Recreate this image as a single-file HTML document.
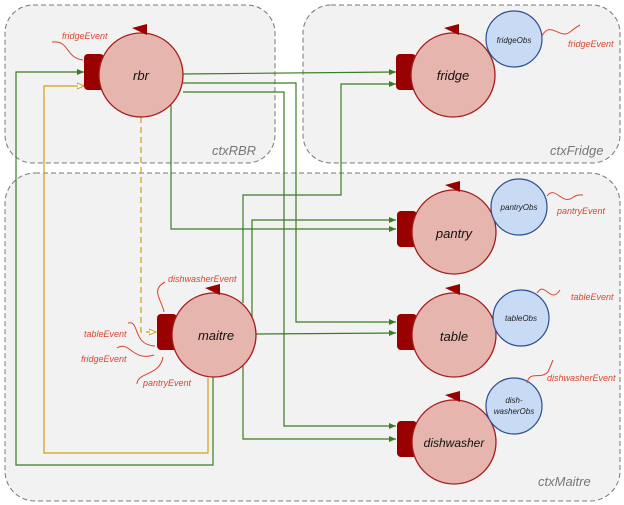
<!DOCTYPE html>
<html><head><meta charset="utf-8"><style>
html,body{margin:0;padding:0;background:#fff;}
svg{display:block;}
text{font-family:"Liberation Sans",sans-serif;font-style:italic;}
.lbl{font-size:13px;fill:#111;}
.ev{font-size:9px;fill:#d9452f;}
.ctx{font-size:13px;fill:#777;}
.obs{font-size:8px;fill:#222;}
</style></head><body>
<svg width="624" height="505" viewBox="0 0 624 505" xmlns="http://www.w3.org/2000/svg">
<defs>
<marker id="ag" markerWidth="8" markerHeight="8" refX="7" refY="4" orient="auto" markerUnits="userSpaceOnUse"><path d="M0,1 L7,4 L0,7 Z" fill="#3a7d22"/></marker>
<marker id="ay" markerWidth="8" markerHeight="8" refX="7" refY="4" orient="auto" markerUnits="userSpaceOnUse"><path d="M0,1 L7,4 L0,7 Z" fill="#fff" stroke="#d4a017"/></marker>
<g id="node"><rect x="-57" y="-21" width="20" height="36" rx="4" fill="#990000"/><circle r="42" fill="#e6b6ae" stroke="#a51c1c" stroke-width="1.3"/><path d="M-9,-47 L6,-51 L6,-40 Z" fill="#990000"/></g>
</defs>
<rect x="5" y="5" width="270" height="158" rx="28" fill="#f2f2f2" stroke="#777" stroke-dasharray="5,3"/>
<rect x="303" y="5" width="317" height="158" rx="28" fill="#f2f2f2" stroke="#777" stroke-dasharray="5,3"/>
<rect x="5" y="173" width="615" height="328" rx="30" fill="#f2f2f2" stroke="#777" stroke-dasharray="5,3"/>
<text class="ctx" x="212" y="155">ctxRBR</text>
<text class="ctx" x="550" y="155">ctxFridge</text>
<text class="ctx" x="538" y="486">ctxMaitre</text>

<g fill="none" stroke-width="1.2">
<polyline points="213,377 213,465 16,465 16,72 84,72" stroke="#3a7d22" marker-end="url(#ag)"/>
<polyline points="208,378 208,453 44,453 44,86 84,86" stroke="#d4a017" marker-end="url(#ay)"/>
<polyline points="141,117 141,332 156,332" stroke="#d4a017" stroke-dasharray="6,4" marker-end="url(#ay)"/>
<polyline points="183,74 396,72" stroke="#3a7d22" marker-end="url(#ag)"/>
<polyline points="183,83 296,83 296,322 396,322" stroke="#3a7d22" marker-end="url(#ag)"/>
<polyline points="183,92 284,92 284,426 396,426" stroke="#3a7d22" marker-end="url(#ag)"/>
<polyline points="171,105 171,229 396,229" stroke="#3a7d22" marker-end="url(#ag)"/>
<polyline points="256,334 396,333" stroke="#3a7d22" marker-end="url(#ag)"/>
<polyline points="243,303 243,195 341,195 341,84 396,84" stroke="#3a7d22" marker-end="url(#ag)"/>
<polyline points="243,365 243,439 396,439" stroke="#3a7d22" marker-end="url(#ag)"/>
<polyline points="252,318 252,220 396,220" stroke="#3a7d22" marker-end="url(#ag)"/>
</g>

<use href="#node" x="141" y="75"/>
<use href="#node" x="453" y="75"/>
<use href="#node" x="454" y="232"/>
<use href="#node" x="454" y="335"/>
<use href="#node" x="454" y="442"/>
<use href="#node" x="214" y="335"/>
<text class="lbl" x="141" y="80" text-anchor="middle">rbr</text>
<text class="lbl" x="453" y="80" text-anchor="middle">fridge</text>
<text class="lbl" x="454" y="238" text-anchor="middle">pantry</text>
<text class="lbl" x="454" y="341" text-anchor="middle">table</text>
<text class="lbl" x="454" y="447" text-anchor="middle" style="font-size:12px">dishwasher</text>
<text class="lbl" x="216" y="340" text-anchor="middle">maitre</text>

<g fill="#c9daf5" stroke="#2a4f8f" stroke-width="1.2">
<circle cx="514" cy="39" r="28"/>
<circle cx="519" cy="207" r="28"/>
<circle cx="521" cy="318" r="28"/>
<circle cx="514" cy="406" r="28"/>
</g>
<text class="obs" x="514" y="43" text-anchor="middle">fridgeObs</text>
<text class="obs" x="519" y="210" text-anchor="middle">pantryObs</text>
<text class="obs" x="521" y="321" text-anchor="middle">tableObs</text>
<text class="obs" x="514" y="403" text-anchor="middle">dish-</text>
<text class="obs" x="514" y="414" text-anchor="middle">washerObs</text>

<g fill="none" stroke="#d9452f" stroke-width="1">
<path d="M542,36 C550,20 560,40 570,32 C575,28 578,26 580,25"/>
<path d="M547,196 C555,185 562,205 572,198 C578,194 580,195 583,195"/>
<path d="M537,293 C545,280 550,305 560,290"/>
<path d="M527,383 C530,370 540,380 548,372 L553,360"/>
<path d="M52,42 C70,40 65,58 83,60"/>
<path d="M165,282 C150,290 162,300 164,312"/>
<path d="M128,323 C140,320 132,345 155,346"/>
<path d="M117,348 C130,340 132,362 154,355"/>
<path d="M137,384 C137,372 160,376 163,357"/>
</g>
<text class="ev" x="62" y="39">fridgeEvent</text>
<text class="ev" x="568" y="47">fridgeEvent</text>
<text class="ev" x="557" y="214">pantryEvent</text>
<text class="ev" x="571" y="300">tableEvent</text>
<text class="ev" x="547" y="381">dishwasherEvent</text>
<text class="ev" x="168" y="282">dishwasherEvent</text>
<text class="ev" x="84" y="337">tableEvent</text>
<text class="ev" x="81" y="362">fridgeEvent</text>
<text class="ev" x="143" y="386">pantryEvent</text>
</svg>
</body></html>
